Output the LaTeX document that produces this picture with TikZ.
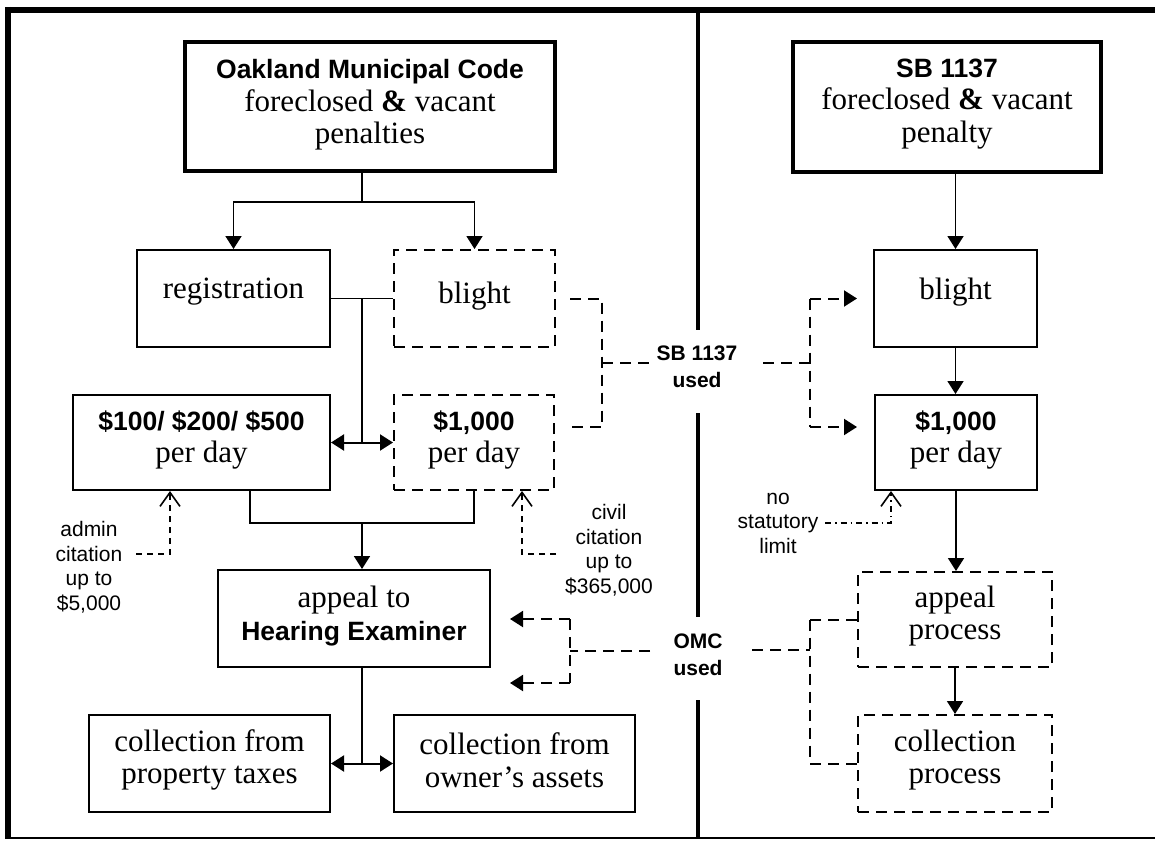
\documentclass[tikz,border=0pt]{standalone}
\usepackage{fontspec}
\setmainfont{Liberation Serif}
\setsansfont{Liberation Sans}
\usetikzlibrary{arrows.meta}
\newcommand{\bsf}{\fontsize{26.5}{32.5}\selectfont\bfseries\sffamily}
\begin{document}
\begin{tikzpicture}[x=1pt,y=-1pt,
  box/.style={draw, line width=2pt, inner sep=0pt},
  thickbox/.style={draw, line width=4pt, inner sep=0pt},
  dbox/.style={draw, line width=2pt, inner sep=0pt, dash pattern=on 11pt off 7pt},
  txt/.style={align=center, inner sep=0pt, font=\fontsize{31}{32.5}\selectfont},
  lbl/.style={align=center, inner sep=0pt, font=\fontsize{21}{24.5}\selectfont\sffamily},
  blbl/.style={align=center, inner sep=0pt, font=\fontsize{21}{27}\selectfont\bfseries\sffamily},
  conn/.style={line width=1.8pt},
  arr/.style={line width=1.8pt, -{Triangle[length=13pt,width=16pt]}},
  darr/.style={line width=2pt, {Triangle[length=13pt,width=16pt]}-{Triangle[length=13pt,width=16pt]}},
  dconn/.style={line width=2pt, dash pattern=on 11pt off 7pt},
  darrow/.style={line width=2pt, dash pattern=on 11pt off 7pt, -{Triangle[length=13pt,width=16pt]}},
  sdconn/.style={line width=1.6pt, dash pattern=on 6pt off 5pt, -{Straight Barb[length=14pt,width=20pt,line width=1.6pt]}},
  ddconn/.style={line width=1.6pt, dash pattern=on 6pt off 4pt on 1.5pt off 4pt, -{Straight Barb[length=14pt,width=20pt,line width=1.6pt]}}
]
\useasboundingbox (0,0) rectangle (1155,840);
% frame
\draw[line width=6pt] (5,10) -- (1155,10);
\draw[line width=6pt] (8,7) -- (8,839);
\draw[line width=2.5pt] (8,838) -- (1155,838);
% divider
\draw[line width=3.3pt] (698,10) -- (698,330);
\draw[line width=3.3pt] (698,413) -- (698,617);
\draw[line width=3.3pt] (698,700) -- (698,838);

% ---- left panel boxes
\node[thickbox, minimum width=370pt, minimum height=129pt] (omc) at (370,106.5) {};
\node[txt] (omcT) at (370,105) {{\bsf Oakland Municipal Code}\\foreclosed {\bfseries\&} vacant\\penalties};
\node[box, minimum width=193pt, minimum height=97pt] (reg) at (233.5,298.5) {};
\node[txt] (regT) at (233.5,292) {registration};
\node[dbox, minimum width=161pt, minimum height=97pt] (blightL) at (474.5,298.5) {};
\node[txt] (blightLT) at (474.5,296) {blight};
\node[box, minimum width=257pt, minimum height=95pt] (d100) at (201.5,442.5) {};
\node[txt] (d100T) at (201.5,440) {{\bsf \$100/ \$200/ \$500}\\per day};
\node[dbox, minimum width=160pt, minimum height=95pt] (d1000L) at (474,442.5) {};
\node[txt] (d1000LT) at (474,440) {{\bsf \$1,000}\\per day};
\node[box, minimum width=272pt, minimum height=97pt] (appeal) at (354,618.5) {};
\node[txt] (appealT) at (354,616) {appeal to\\{\bsf Hearing Examiner}};
\node[box, minimum width=241pt, minimum height=97pt] (collProp) at (209.5,763.5) {};
\node[txt] (collPropT) at (209.5,760) {collection from\\property taxes};
\node[box, minimum width=241pt, minimum height=97pt] (collOwner) at (514.5,763.5) {};
\node[txt] (collOwnerT) at (514.5,760) {collection from\\owner’s assets};

% ---- right panel boxes
\node[thickbox, minimum width=308pt, minimum height=130pt] (sb) at (947,107) {};
\node[txt] (sbT) at (947,104) {{\bsf SB 1137}\\foreclosed {\bfseries\&} vacant\\penalty};
\node[box, minimum width=163pt, minimum height=97pt] (blightR) at (955.5,298.5) {};
\node[txt] (blightRT) at (955.5,292) {blight};
\node[box, minimum width=162pt, minimum height=95pt] (d1000R) at (956,442.5) {};
\node[txt] (d1000RT) at (956,440) {{\bsf \$1,000}\\per day};
\node[dbox, minimum width=194pt, minimum height=95pt] (appealP) at (955,619.5) {};
\node[txt] (appealPT) at (955,616) {appeal\\process};
\node[dbox, minimum width=194pt, minimum height=97pt] (collP) at (955,763.5) {};
\node[txt] (collPT) at (955,760) {collection\\process};

% ---- labels
\node[lbl] (adminL) at (89,567) {admin\\citation\\up to\\\$5,000};
\node[lbl] (civilL) at (609,550) {civil\\citation\\up to\\\$365,000};
\node[lbl] (nslL) at (778,523) {no\\statutory\\limit};
\node[blbl] (sbUsed) at (697,367) {SB 1137\\used};
\node[blbl] (omcUsed) at (698,655) {OMC\\used};

% ---- left connectors
\coordinate (j1) at (362,202);
\coordinate (j2) at (362,298.5);
\coordinate (j3) at (362,442.5);
\coordinate (j4) at (362,523);
\coordinate (j4l) at (250,523);
\coordinate (j5) at (362,763.5);
\draw[conn] (omc.south -| j1) -- (j1);
\draw[arr] (j1) -| (reg.north);
\draw[arr] (j1) -| (blightL.north);
\draw[conn] (reg.east) -- (blightL.west);
\draw[conn] (j2) -- (j3);
\draw[darr] (d100.east) -- (d1000L.west);
\draw[conn] (d100.south -| j4l) -- (j4l) -- (j4) -| (d1000L.south);
\draw[arr] (j4) -- (appeal.north -| j4);
\draw[conn] (appeal.south -| j5) -- (j5);
\draw[darr] (collProp.east) -- (collOwner.west);

% admin / civil citation
\coordinate (a1) at (136,554);
\coordinate (a2) at (170,554);
\draw[sdconn] (a1) -- (a2) -- (d100.south -| a2);
\coordinate (c1) at (556,554);
\coordinate (c2) at (522,554);
\draw[sdconn] (c1) -- (c2) -- (d1000L.south -| c2);
% no statutory limit
\coordinate (n1) at (825,523);
\coordinate (n2) at (891,523);
\draw[ddconn] (n1) -- (n2) -- (d1000R.south -| n2);

% ---- SB 1137 used connectors
\coordinate (s1) at (570,298.5);
\coordinate (s2) at (602,298.5);
\coordinate (s3) at (602,427);
\coordinate (s4) at (570,427);
\coordinate (s5) at (602,363);
\coordinate (s6) at (650,363);
\draw[dconn] (s1) -- (s2) -- (s3) -- (s4);
\draw[dconn] (s5) -- (s6);
\coordinate (r0) at (763,363);
\coordinate (r1) at (810,363);
\coordinate (r2) at (810,298.5);
\coordinate (r3) at (810,427);
\draw[dconn] (r0) -- (r1);
\draw[dconn] (r2) -- (r3);
\draw[darrow, shorten >=16pt] (r2) -- (blightR.west);
\draw[darrow, shorten >=17pt] (r3) -- (d1000R.west |- r3);

% ---- OMC used connectors
\coordinate (o1) at (650,651);
\coordinate (o2) at (570,651);
\coordinate (o3) at (570,619);
\coordinate (o4) at (570,683);
\draw[dconn] (o1) -- (o2);
\draw[dconn] (o3) -- (o4);
\draw[darrow, shorten >=19pt] (o3) -- (appeal.east |- o3);
\draw[darrow, shorten >=19pt] (o4) -- (appeal.east |- o4);
\coordinate (p0) at (752,650);
\coordinate (p1) at (810,650);
\coordinate (p2) at (810,619.5);
\coordinate (p3) at (810,763.5);
\draw[dconn] (p0) -- (p1);
\draw[dconn] (p2) -- (p3);
\draw[dconn] (p2) -- (appealP.west);
\draw[dconn] (p3) -- (collP.west);

% ---- right connectors
\draw[arr] (sb.south -| blightR.north) -- (blightR.north);
\draw[arr] (blightR.south) -- (d1000R.north -| blightR.south);
\draw[arr] (d1000R.south) -- (appealP.north -| d1000R.south);
\draw[arr] (appealP.south) -- (collP.north);
\end{tikzpicture}
\end{document}
